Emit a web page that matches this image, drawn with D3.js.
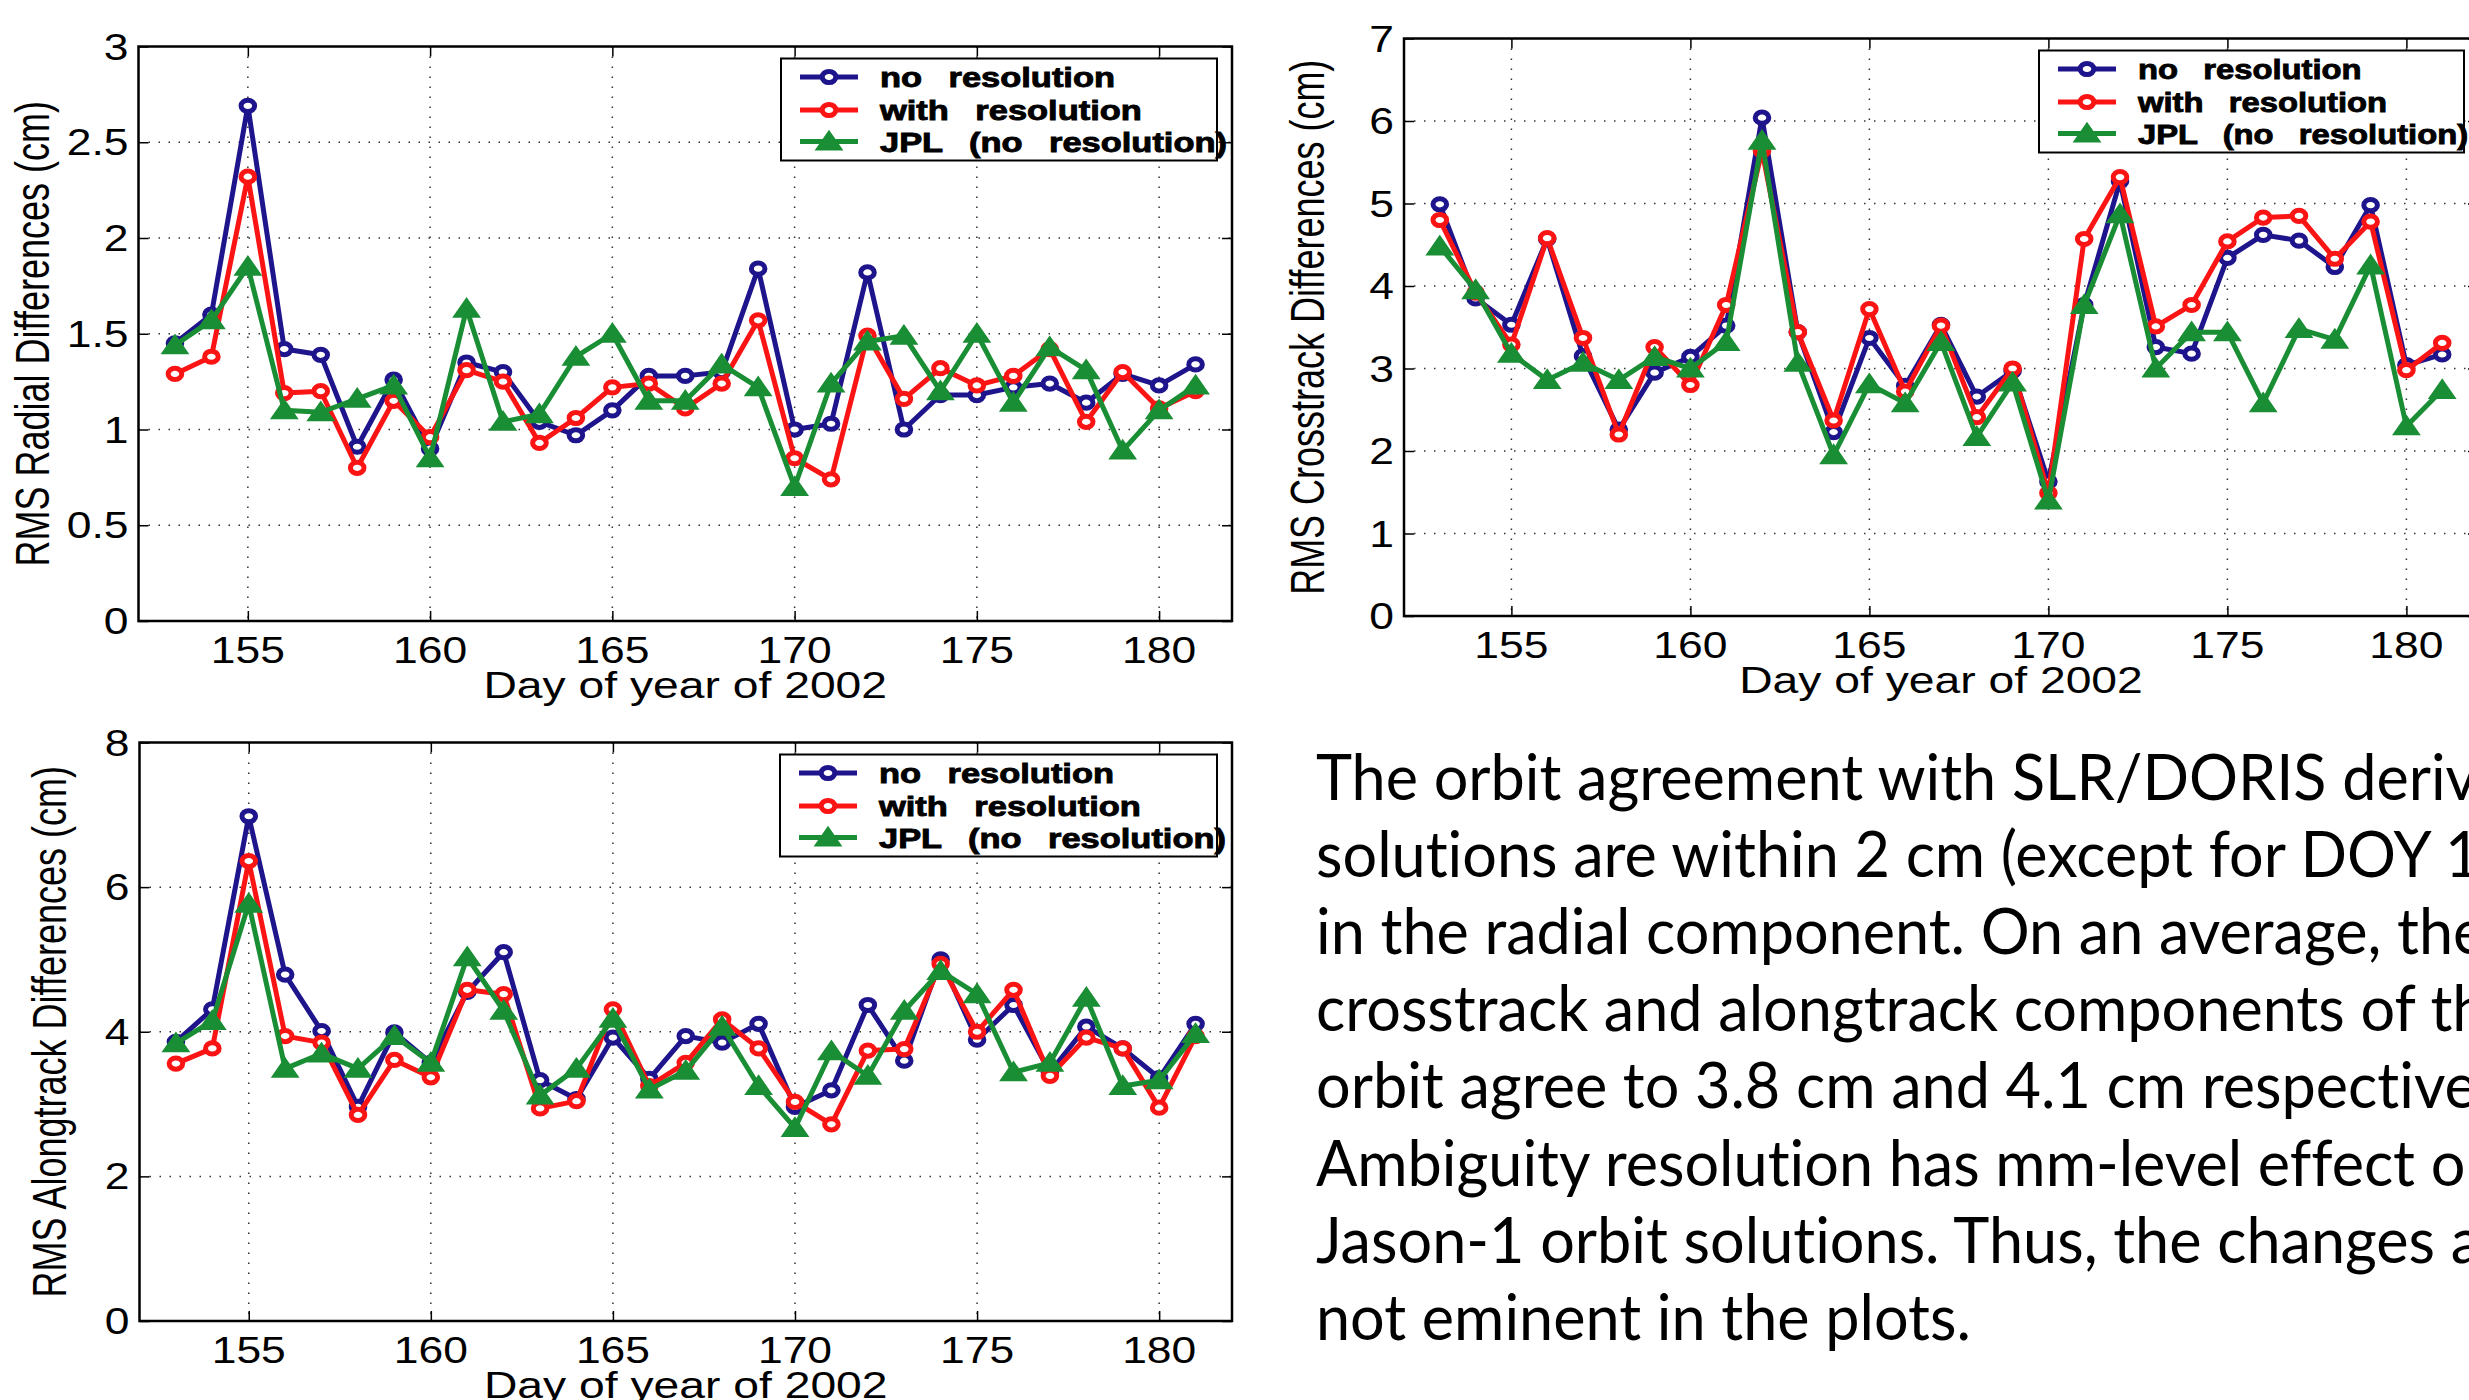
<!DOCTYPE html>
<html>
<head>
<meta charset="utf-8">
<script src="https://cdn.jsdelivr.net/npm/d3@7"></script>
<style>
  body { margin: 0; background: #fff; overflow: hidden; }
  svg { display: block; }
  text { fill: #000; }
  .plot text { font-family: "Liberation Sans", Arial, Helvetica, sans-serif; }
  .para text { font-family: Lato, "Open Sans", sans-serif; font-variant-ligatures: none; font-feature-settings: "liga" 0, "clig" 0; }
</style>
</head>
<body>
<svg id="fig" width="2469" height="1400"></svg>
<script>
const days = [153,154,155,156,157,158,159,160,161,162,163,164,165,166,167,168,169,170,171,172,173,174,175,176,177,178,179,180,181]
const xTicks = [155,160,165,170,175,180]

// radial
const radialNoRes = [1.45,1.60,2.69,1.42,1.39,0.91,1.26,0.90,1.35,1.30,1.04,0.97,1.10,1.28,1.28,1.30,1.84,1.00,1.03,1.82,1.00,1.18,1.18,1.22,1.24,1.14,1.29,1.23,1.34]
const radialWithRes = [1.29,1.38,2.32,1.19,1.20,0.80,1.15,0.96,1.31,1.25,0.93,1.06,1.22,1.24,1.11,1.24,1.57,0.85,0.74,1.49,1.16,1.32,1.23,1.28,1.42,1.04,1.30,1.11,1.20]
const radialJPL = [1.44,1.57,1.85,1.10,1.09,1.16,1.23,0.85,1.63,1.04,1.08,1.38,1.50,1.15,1.15,1.34,1.22,0.70,1.24,1.46,1.49,1.20,1.50,1.14,1.43,1.31,0.89,1.10,1.23]
const radialTicks = [0,0.5,1,1.5,2,2.5,3]

// crosstrack
const crossNoRes = [4.99,3.85,3.53,4.57,3.15,2.26,2.95,3.14,3.52,6.04,3.44,2.23,3.37,2.79,3.53,2.66,2.97,1.63,3.77,5.27,3.26,3.18,4.34,4.62,4.55,4.23,4.98,3.04,3.17]
const crossWithRes = [4.80,3.92,3.29,4.58,3.37,2.20,3.26,2.80,3.77,5.64,3.44,2.37,3.72,2.72,3.52,2.41,3.00,1.49,4.57,5.32,3.51,3.77,4.54,4.83,4.85,4.33,4.78,2.98,3.31]
const crossJPL = [4.48,3.95,3.18,2.86,3.07,2.86,3.14,3.00,3.32,5.76,3.07,1.95,2.81,2.58,3.32,2.17,2.83,1.40,3.77,4.87,3.00,3.44,3.44,2.58,3.48,3.35,4.25,2.30,2.74]
const crossTicks = [0,1,2,3,4,5,6,7]

// alongtrack
const alongNoRes = [3.86,4.31,6.98,4.79,4.01,2.96,3.99,3.57,4.55,5.10,3.33,3.07,3.92,3.35,3.94,3.85,4.11,2.96,3.19,4.37,3.60,5.00,3.89,4.37,3.44,4.07,3.77,3.36,4.11]
const alongWithRes = [3.56,3.77,6.36,3.94,3.85,2.85,3.61,3.37,4.58,4.52,2.94,3.04,4.31,3.25,3.57,4.17,3.77,3.03,2.72,3.74,3.76,4.94,4.00,4.58,3.39,3.92,3.77,2.95,3.94]
const alongJPL = [3.84,4.15,5.77,3.49,3.70,3.49,3.94,3.57,5.03,4.29,3.12,3.49,4.18,3.20,3.46,4.07,3.25,2.67,3.73,3.39,4.29,4.84,4.52,3.44,3.57,4.47,3.25,3.33,3.97]
const alongTicks = [0,2,4,6,8]

const seriesNames = ["no  resolution", "with  resolution", "JPL  (no  resolution)"]
const seriesColors = ["#1e148c", "#fa1414", "#1a8e34"]
const seriesMarkers = ["circle", "circle", "triangle"]
const xLabel = "Day of year of 2002"

const paragraph = [
  "The orbit agreement with SLR/DORIS derived",
  "solutions are within 2 cm (except for DOY 155)",
  "in the radial component. On an average, the",
  "crosstrack and alongtrack components of the",
  "orbit agree to 3.8 cm and 4.1 cm respectively.",
  "Ambiguity resolution has mm-level effect on",
  "Jason-1 orbit solutions. Thus, the changes are",
  "not eminent in the plots."
]

const SX = 1.2   // the figure is stretched sideways
const svg = d3.select("#fig")

function drawMarker(sel, type, color) {
  if (type === "circle") {
    sel.append("ellipse")
       .attr("rx", 6.8).attr("ry", 5.6)
       .attr("fill", "#fff").attr("stroke", color).attr("stroke-width", 5)
  } else {
    sel.append("path")
       .attr("d", "M0,-10 L-12.5,8 L12.5,8 Z")
       .attr("fill", color).attr("stroke", color).attr("stroke-width", 2)
  }
}

function drawPanel(p) {
  const g = svg.append("g").attr("class", "plot")
  const x = d3.scaleLinear().domain([152, 182]).range([p.left, p.right])
  const y = d3.scaleLinear().domain([0, p.yTicks[p.yTicks.length - 1]]).range([p.bottom, p.top])

  // dotted grid
  g.selectAll(".vg").data(xTicks).enter().append("line")
    .attr("x1", d => x(d)).attr("x2", d => x(d))
    .attr("y1", p.top).attr("y2", p.bottom)
    .attr("stroke", "#333").attr("stroke-width", 1.5).attr("stroke-dasharray", "1.5,8.5")
  g.selectAll(".hg").data(p.yTicks.slice(1, -1)).enter().append("line")
    .attr("x1", p.left).attr("x2", p.right)
    .attr("y1", d => y(d)).attr("y2", d => y(d))
    .attr("stroke", "#333").attr("stroke-width", 1.5).attr("stroke-dasharray", "1.5,8.5")

  // inward ticks on all four sides
  const tl = 10
  g.append("g").attr("transform", "translate(0," + p.bottom + ")")
    .call(d3.axisBottom(x).tickValues(xTicks).tickSize(-tl).tickFormat(""))
  g.append("g").attr("transform", "translate(0," + p.top + ")")
    .call(d3.axisTop(x).tickValues(xTicks).tickSize(-tl).tickFormat(""))
  g.append("g").attr("transform", "translate(" + p.left + ",0)")
    .call(d3.axisLeft(y).tickValues(p.yTicks).tickSize(-tl).tickFormat(""))
  g.append("g").attr("transform", "translate(" + p.right + ",0)")
    .call(d3.axisRight(y).tickValues(p.yTicks).tickSize(-tl).tickFormat(""))
  g.selectAll(".domain").remove()
  g.selectAll(".tick line").attr("stroke", "#000").attr("stroke-width", 1.5)

  g.append("rect")
    .attr("x", p.left).attr("y", p.top)
    .attr("width", p.right - p.left).attr("height", p.bottom - p.top)
    .attr("fill", "none").attr("stroke", "#000").attr("stroke-width", 2.5)

  // tick labels
  g.selectAll(".xl").data(xTicks).enter().append("text")
    .attr("transform", d => "translate(" + x(d) + "," + (p.bottom + 42) + ") scale(" + SX + ",1)")
    .attr("text-anchor", "middle").attr("font-size", 37)
    .text(d => d)
  g.selectAll(".yl").data(p.yTicks).enter().append("text")
    .attr("transform", d => "translate(" + (p.left - 10) + "," + (y(d) + 13) + ") scale(" + SX + ",1)")
    .attr("text-anchor", "end").attr("font-size", 37)
    .text(d => d)

  g.append("text")
    .attr("transform", "translate(" + ((p.left + p.right) / 2) + "," + (p.bottom + 77) + ") scale(1.25,1)")
    .attr("text-anchor", "middle").attr("font-size", 37)
    .text(xLabel)
  g.append("text")
    .attr("transform", "translate(" + p.yLabelX + "," + ((p.top + p.bottom) / 2) + ") scale(1.35,1) rotate(-90)")
    .attr("text-anchor", "middle").attr("font-size", 36)
    .text(p.yLabel)

  // series
  const line = d3.line().x((d, i) => x(days[i])).y(d => y(d))
  p.series.forEach((vals, k) => {
    g.append("path").datum(vals)
      .attr("d", line).attr("fill", "none")
      .attr("stroke", seriesColors[k]).attr("stroke-width", 5)
      .attr("stroke-linejoin", "round")
    const m = g.selectAll(".m" + k).data(vals).enter().append("g")
      .attr("transform", (d, i) => "translate(" + x(days[i]) + "," + y(d) + ")")
    drawMarker(m, seriesMarkers[k], seriesColors[k])
  })

  // legend
  const lg = g.append("g").attr("transform", "translate(" + p.legX + "," + (p.top + 12) + ")")
  lg.append("rect").attr("width", p.legW).attr("height", 102)
    .attr("fill", "#fff").attr("stroke", "#000").attr("stroke-width", 2)
  const rows = [18.5, 51.5, 83]
  seriesNames.forEach((name, k) => {
    lg.append("line").attr("x1", 19).attr("x2", 77).attr("y1", rows[k]).attr("y2", rows[k])
      .attr("stroke", seriesColors[k]).attr("stroke-width", 5)
    drawMarker(lg.append("g").attr("transform", "translate(48," + rows[k] + ")"), seriesMarkers[k], seriesColors[k])
    lg.append("text")
      .attr("transform", "translate(99," + (rows[k] + 10) + ") scale(" + p.legS + ",1)")
      .attr("font-size", 28).attr("font-weight", "bold")
      .attr("stroke", "#000").attr("stroke-width", 0.9)
      .style("white-space", "pre").attr("word-spacing", 3)
      .text(name)
  })
}

drawPanel({
  left: 138.5, right: 1232, top: 46.5, bottom: 621,
  yTicks: radialTicks, yLabel: "RMS Radial Differences (cm)", yLabelX: 49,
  series: [radialNoRes, radialWithRes, radialJPL], legX: 781, legW: 436, legS: 1.23
})
drawPanel({
  left: 1404, right: 2478, top: 38.5, bottom: 616,
  yTicks: crossTicks, yLabel: "RMS Crosstrack Differences (cm)", yLabelX: 1324,
  series: [crossNoRes, crossWithRes, crossJPL], legX: 2039, legW: 425, legS: 1.17
})
drawPanel({
  left: 139.5, right: 1232, top: 742.5, bottom: 1321,
  yTicks: alongTicks, yLabel: "RMS Alongtrack Differences (cm)", yLabelX: 66,
  series: [alongNoRes, alongWithRes, alongJPL], legX: 780, legW: 437, legS: 1.23
})

// paragraph on the right
const para = svg.append("g").attr("class", "para")
const lines = para.selectAll("text").data(paragraph).enter().append("text")
  .attr("font-size", 63)
  .text(d => d)
const lastW = lines.filter((d, i) => i === paragraph.length - 1).node().getComputedTextLength()
const psx = 655 / lastW
lines.attr("transform", (d, i) => "translate(1316," + (800 + i * 77.1) + ") scale(" + psx + ",1)")
</script>
</body>
</html>
